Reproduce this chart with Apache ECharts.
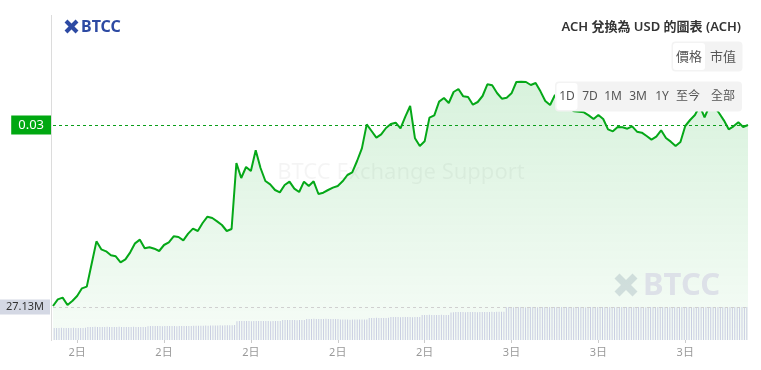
<!DOCTYPE html>
<html>
<head>
<meta charset="utf-8">
<script src="https://cdn.jsdelivr.net/npm/echarts@6/dist/echarts.min.js"></script>
<style>
  html, body { margin: 0; padding: 0; background: #fff; }
  #chart { width: 761px; height: 370px; }
</style>
</head>
<body>
<div id="chart"></div>
<script>
// ACH/USD 1D - price every 10 min, volume (24h, M) every 5 min
const priceData = [
  0.02457, 0.02477, 0.02482, 0.02460, 0.02472, 0.02487, 0.02510, 0.02515, 0.02583, 0.02651,
  0.02627, 0.02621, 0.02609, 0.02606, 0.02588, 0.02597, 0.02618, 0.02645, 0.02656, 0.02630,
  0.02633, 0.02629, 0.02622, 0.02640, 0.02648, 0.02666, 0.02664, 0.02654, 0.02674, 0.02689,
  0.02682, 0.02706, 0.02725, 0.02721, 0.02711, 0.02700, 0.02682, 0.02688, 0.02886, 0.02841,
  0.02874, 0.02862, 0.02924, 0.02871, 0.02832, 0.02822, 0.02805, 0.02798, 0.02820, 0.02830,
  0.02809, 0.02799, 0.02830, 0.02817, 0.02831, 0.02793, 0.02797, 0.02805, 0.02812, 0.02817,
  0.02831, 0.02850, 0.02858, 0.02892, 0.02930, 0.03002, 0.02982, 0.02962, 0.02972, 0.02991,
  0.03003, 0.03007, 0.02990, 0.03025, 0.03057, 0.02960, 0.02937, 0.02951, 0.03022, 0.03029,
  0.03070, 0.03081, 0.03066, 0.03099, 0.03108, 0.03086, 0.03084, 0.03061, 0.03069, 0.03087,
  0.03122, 0.03119, 0.03096, 0.03079, 0.03082, 0.03095, 0.03129, 0.03130, 0.03129, 0.03120,
  0.03126, 0.03101, 0.03072, 0.03060, 0.03090, 0.03069, 0.03057, 0.03050, 0.03041, 0.03040,
  0.03038, 0.03029, 0.03018, 0.03030, 0.03018, 0.02987, 0.02981, 0.02994, 0.02993, 0.02989,
  0.02996, 0.02980, 0.02977, 0.02967, 0.02956, 0.02965, 0.02984, 0.02961, 0.02950, 0.02937,
  0.02949, 0.02997, 0.03015, 0.03030, 0.03057, 0.03023, 0.03057, 0.03055, 0.03036, 0.03014,
  0.02987, 0.02996, 0.03008, 0.02994, 0.03000
]

const volumeData = [
  9.9, 9.8, 9.9, 10.0, 9.9, 9.8, 9.9, 9.9, 10.0, 9.9, 9.8, 9.9, 9.9, 10.0,
  10.6, 10.7, 10.7, 10.8, 10.7, 10.6, 10.7, 10.7, 10.8, 10.7, 10.7, 10.6, 10.7, 10.8, 10.7,
  10.7, 10.6, 10.7, 10.7, 10.8, 10.7, 10.7, 10.6, 10.7, 10.7,
  11.4, 11.5, 11.5, 11.6, 11.5, 11.5, 11.4, 11.5, 11.6, 11.5, 11.5, 11.5, 11.4, 11.5, 11.6,
  11.5, 11.5, 11.5, 11.6, 11.7, 11.7, 11.8, 11.7, 11.8, 11.9, 11.8, 11.9, 12.0, 11.9, 12.0,
  12.1, 12.0, 12.1, 12.2, 12.1, 12.2, 12.3,
  15.5, 15.6, 15.6, 15.7, 15.6, 15.6, 15.5, 15.6, 15.7, 15.6, 15.6, 15.6, 15.7, 15.6, 15.5,
  15.6, 15.6, 15.7, 15.6,
  16.4, 16.5, 16.4, 16.4, 16.5, 16.4, 16.3, 16.4, 16.5, 16.4,
  17.3, 17.2, 17.3, 17.4, 17.3, 17.3, 17.2, 17.3, 17.4, 17.3, 17.3, 17.2, 17.3, 17.3,
  16.8, 16.9, 16.8, 16.8, 16.7, 16.8, 16.9, 16.8, 16.8, 16.9, 16.8, 16.8,
  18.1, 18.0, 18.1, 18.2, 18.1, 18.1, 18.0, 18.1, 18.2,
  18.9, 18.9, 19.0, 18.9, 18.8, 18.9, 19.0, 18.9, 18.9, 18.8, 18.9, 19.0, 18.9,
  20.6, 20.5, 20.6, 20.7, 20.6, 20.6, 20.5, 20.6, 20.7, 20.6, 20.6, 20.6,
  22.6, 22.8, 23.0, 23.0, 23.1, 23.0, 22.9, 23.0, 23.1, 23.0, 23.0, 22.9, 23.0, 23.1, 23.0,
  23.0, 23.1, 23.2, 23.1, 23.2, 23.3, 23.2, 23.3,
  27.0, 27.1, 27.1, 27.0, 27.1, 27.2, 27.1, 27.1, 27.0, 27.1,
  27.1, 27.2, 27.1, 27.0, 27.1, 27.1, 27.1, 27.2, 27.1, 27.0,
  27.1, 27.1, 27.0, 27.1, 27.2, 27.1, 27.1, 27.1, 27.0, 27.1,
  27.2, 27.1, 27.1, 27.0, 27.1, 27.1, 27.2, 27.1, 27.1, 27.0,
  27.1, 27.1, 27.1, 27.2, 27.1, 27.0, 27.1, 27.1, 27.1, 27.2,
  27.1, 27.1, 27.0, 27.1, 27.1, 27.2, 27.1, 27.1, 27.0, 27.1,
  27.1, 27.1, 27.2, 27.1, 27.0, 27.1, 27.1, 27.1, 27.2, 27.1,
  27.1, 27.0, 27.1, 27.1, 27.1, 27.2, 27.1, 27.1, 27.0, 27.1,
  27.1, 27.2, 27.1, 27.1, 27.0, 27.1, 27.1, 27.1, 27.2, 27.1,
  27.1, 27.0, 27.1, 27.1, 27.2, 27.1, 27.1, 27.0, 27.1, 27.1,
  27.13
]

// x axis: label every 3 hours (18 steps of 10 min)
const tickIndex = [5, 23, 41, 59, 77, 95, 113, 131]
const tickLabels = ['2日', '2日', '2日', '2日', '2日', '3日', '3日', '3日']
const rangeButtons = ['1D', '7D', '1M', '3M', '1Y', '至今', '全部']
const rangeX = [567, 590, 613, 638, 662, 688, 723]
const lastPrice = 0.03
const lastVolume = 27.13

const categories = priceData.map((v, i) => i)
const volCategories = volumeData.map((v, i) => i)

const isTick = (i) => tickIndex.indexOf(i) >= 0
const FONT = "'Noto Sans', 'Noto Sans CJK TC', sans-serif"
const GREEN = '#05a818'

const chart = echarts.init(document.getElementById('chart'))

// logo X mark
const xMark = (cx, cy, s, w, color) => ({
  type: 'group',
  z: 100,
  children: [
    { type: 'line', shape: { x1: cx - s, y1: cy - s, x2: cx + s, y2: cy + s }, style: { stroke: color, lineWidth: w } },
    { type: 'line', shape: { x1: cx + s, y1: cy - s, x2: cx - s, y2: cy + s }, style: { stroke: color, lineWidth: w } }
  ]
})

const graphics = [
  { type: 'line', z: 50, shape: { x1: 51.5, y1: 15, x2: 51.5, y2: 341 }, style: { stroke: '#dcdcdc', lineWidth: 1 } },
  xMark(71.5, 26.5, 5.5, 4, '#2d4aa3'),
  { type: 'text', z: 100, style: { x: 81, y: 27, text: 'BTCC', fill: '#2d4aa3', font: "bold 16px " + FONT, verticalAlign: 'middle' } },
  { type: 'text', z: 100, style: { x: 741, y: 27, text: 'ACH 兌換為 USD 的圖表 (ACH)', fill: '#333', font: "600 13px " + FONT, align: 'right', verticalAlign: 'middle' } },
  // watermark
  { type: 'text', z: 1, style: { x: 401, y: 173, text: 'BTCC Exchange Support', fill: 'rgba(0,0,0,0.045)', font: "22px " + FONT, align: 'center', verticalAlign: 'middle' } },
  xMark(626, 285, 9, 7, '#dde1e8'),
  { type: 'text', z: 100, style: { x: 643, y: 286, text: 'BTCC', fill: '#dde1e8', font: "bold 31px " + FONT, verticalAlign: 'middle' } },
  // price / market cap switch
  { type: 'rect', z: 100, shape: { x: 671.5, y: 41.5, width: 71, height: 30, r: 4 }, style: { fill: '#f3f3f3' } },
  { type: 'rect', z: 101, shape: { x: 673, y: 43, width: 32, height: 27, r: 3 }, style: { fill: '#fff' } },
  { type: 'text', z: 102, style: { x: 689, y: 57, text: '價格', fill: '#555', font: "13px " + FONT, align: 'center', verticalAlign: 'middle' } },
  { type: 'text', z: 102, style: { x: 723, y: 57, text: '市值', fill: '#555', font: "13px " + FONT, align: 'center', verticalAlign: 'middle' } },
  // range buttons
  { type: 'rect', z: 100, shape: { x: 555, y: 81.5, width: 187, height: 30, r: 4 }, style: { fill: '#f3f3f3' } },
  { type: 'rect', z: 101, shape: { x: 556.5, y: 83, width: 21, height: 27, r: 3 }, style: { fill: '#fff' } }
]
rangeButtons.forEach((t, k) => {
  graphics.push({ type: 'text', z: 102, style: { x: rangeX[k], y: 97, text: t, fill: '#555', font: "12px " + FONT, align: 'center', verticalAlign: 'middle' } })
})

const option = {
  animation: false,
  textStyle: { fontFamily: FONT },
  grid: { left: 53, right: 13, top: 15, bottom: 30 },
  xAxis: [
    {
      type: 'category',
      data: categories,
      boundaryGap: false,
      axisLine: { show: false },
      axisTick: { show: true, interval: (i) => isTick(i), length: 3, lineStyle: { color: '#ccc' } },
      axisLabel: {
        interval: (i) => isTick(i),
        formatter: (v, i) => (isTick(i) ? tickLabels[tickIndex.indexOf(i)] : ''),
        color: '#999',
        fontSize: 11,
        margin: 7
      },
      splitLine: { show: false }
    },
    { type: 'category', data: volCategories, show: false, boundaryGap: true }
  ],
  yAxis: [
    { type: 'value', min: 0.02355, max: 0.0333, show: false, splitLine: { show: false } },
    { type: 'value', min: 0, max: 267.2, show: false, splitLine: { show: false } }
  ],
  series: [
    {
      type: 'line',
      data: priceData,
      symbol: 'none',
      z: 2,
      lineStyle: { color: GREEN, width: 2 },
      areaStyle: {
        color: new echarts.graphic.LinearGradient(0, 0, 0, 1, [
          { offset: 0, color: 'rgba(0,170,30,0.22)' },
          { offset: 1, color: 'rgba(0,170,30,0.05)' }
        ])
      },
      markLine: {
        silent: true,
        symbol: 'none',
        data: [{ yAxis: lastPrice }],
        itemStyle: { color: '#0a9e1a' },
        lineStyle: { color: '#0a9e1a', type: [3, 3], width: 1, opacity: 1 },
        label: {
          position: 'start',
          formatter: String(lastPrice),
          color: '#fff',
          backgroundColor: '#00a811',
          fontSize: 13,
          padding: [3, 7],
          distance: 2
        }
      }
    },
    {
      type: 'bar',
      xAxisIndex: 1,
      yAxisIndex: 1,
      data: volumeData,
      barWidth: 1,
      z: 3,
      itemStyle: { color: '#c9cee2' },
      markLine: {
        silent: true,
        symbol: 'none',
        data: [{ yAxis: lastVolume }],
        lineStyle: { color: '#d0d0d0', type: [3, 3], width: 1 },
        label: {
          position: 'start',
          formatter: lastVolume + 'M',
          color: '#333',
          backgroundColor: '#d4d8e4',
          fontSize: 11,
          padding: [2, 6],
          distance: 3
        }
      }
    }
  ],
  graphic: graphics
}

chart.setOption(option)
</script>
</body>
</html>
